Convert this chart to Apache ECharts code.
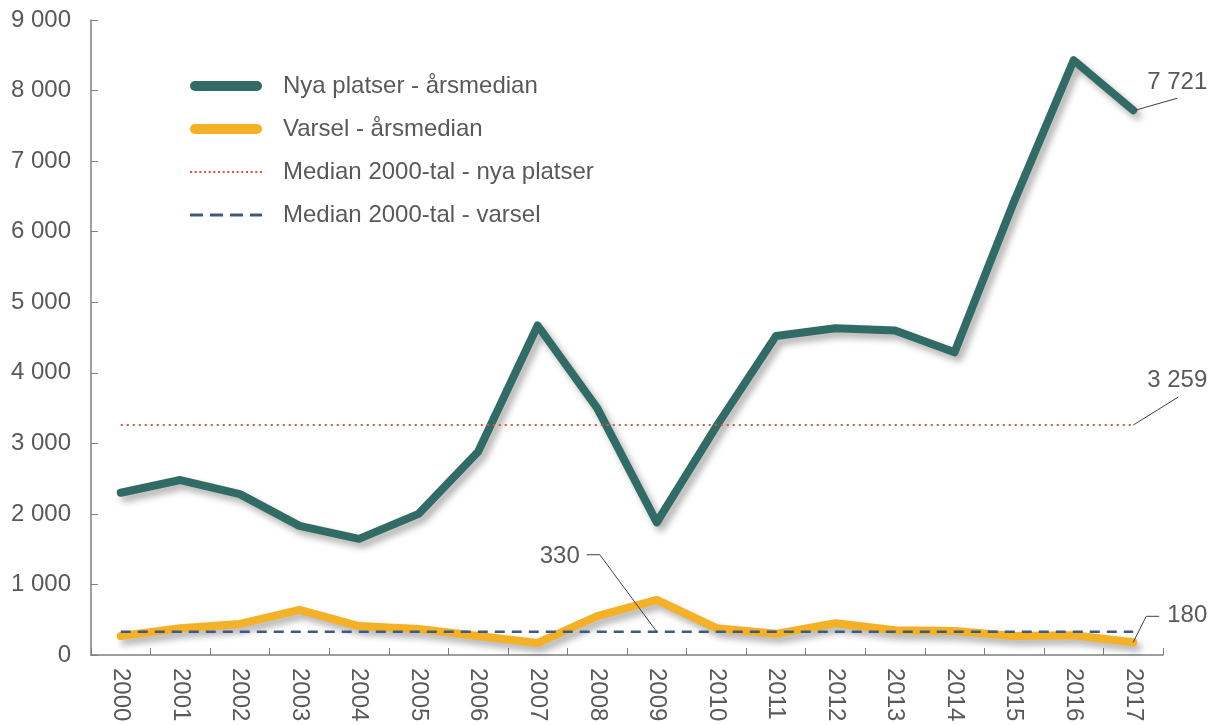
<!DOCTYPE html>
<html>
<head>
<meta charset="utf-8">
<script src="https://cdn.jsdelivr.net/npm/echarts@6/dist/echarts.min.js"></script>
<style>
  html, body { margin: 0; padding: 0; background: #ffffff; }
  #chart { width: 1217px; height: 725px; }
</style>
</head>
<body>
<div id="chart"></div>
<script>
// Years on the category axis
const years = ['2000','2001','2002','2003','2004','2005','2006','2007','2008',
               '2009','2010','2011','2012','2013','2014','2015','2016','2017'];

// Yearly median of new vacancies
const nyaPlatser = [2300, 2480, 2280, 1830, 1645, 2000, 2880, 4670, 3500,
                    1880, 3240, 4520, 4630, 4600, 4290, 6430, 8430, 7721];

// Yearly median of notices (varsel)
const varsel = [270, 380, 440, 640, 410, 370, 270, 170, 550,
                780, 380, 300, 450, 350, 340, 270, 280, 180];

// Medians over the 2000s
const medianNyaPlatser = 3259;
const medianVarsel = 330;

// Y-axis ticks
const yMin = 0, yMax = 9000, yStep = 1000;

const seriesNames = [
  'Nya platser - årsmedian',
  'Varsel - årsmedian',
  'Median 2000-tal - nya platser',
  'Median 2000-tal - varsel'
];

const colTeal = '#316b66';
const colOrange = '#f5b125';
const colRed = '#e2553b';
const colBlue = '#3e5b7e';
const textCol = '#595959';
const FONT = 'Liberation Sans, Arial, sans-serif';
const FS = 24;

const fmt = v => String(v).replace(/\B(?=(\d{3})+(?!\d))/g, ' ');

// Legend icons: rounded bar for thick lines, dots and dashes for the medians
const capsule = 'path://M5,0 H67 A5,5 0 0 1 67,10 H5 A5,5 0 0 1 5,0 Z';
function rowIcon(starts, len, h) {
  return 'path://' + starts.map(s => 'M' + s + ',0 h' + len + ' v' + h + ' h-' + len + ' Z').join(' ');
}
const dotStarts = [];
for (let s = 0; s <= 70; s += 4.6) dotStarts.push(+s.toFixed(1));
const dottedIcon = rowIcon(dotStarts, 2, 2);
const dashedIcon = 'path://M0,0 h13 v3 h-13 Z M20,0 h13 v3 h-13 Z M40,0 h13 v3 h-13 Z M60,0 h12 v3 h-12 Z';

const shadow = { shadowColor: 'rgba(0,0,0,0.32)', shadowBlur: 7, shadowOffsetX: 4, shadowOffsetY: 5 };

const chart = echarts.init(document.getElementById('chart'), null, { renderer: 'canvas' });

const option = {
  backgroundColor: '#ffffff',
  animation: false,
  textStyle: { fontFamily: FONT },
  grid: { left: 91, right: 54, top: 20, bottom: 70, containLabel: false, outerBoundsMode: 'none' },
  legend: {
    orient: 'vertical',
    left: 185,
    top: 69,
    itemWidth: 72,
    itemHeight: 10,
    itemGap: 19,
    selectedMode: false,
    symbolKeepAspect: true,
    textStyle: { fontSize: FS, color: textCol, fontFamily: FONT, lineHeight: 24, padding: [0, 0, 0, 16] },
    data: [
      { name: seriesNames[0], icon: capsule, itemStyle: { color: colTeal } },
      { name: seriesNames[1], icon: capsule, itemStyle: { color: colOrange } },
      { name: seriesNames[2], icon: dottedIcon, itemStyle: { color: colRed } },
      { name: seriesNames[3], icon: dashedIcon, itemStyle: { color: colBlue } }
    ]
  },
  xAxis: {
    type: 'category',
    data: years,
    boundaryGap: true,
    axisLine: { lineStyle: { color: '#7f7f7f', width: 1.5 } },
    axisTick: { show: true, inside: true, length: 7, lineStyle: { color: '#7f7f7f' } },
    axisLabel: { rotate: -90, margin: 13, fontSize: FS, color: textCol, fontFamily: FONT },
    splitLine: { show: false }
  },
  yAxis: {
    type: 'value',
    min: yMin,
    max: yMax,
    interval: yStep,
    axisLine: { show: true, lineStyle: { color: '#7f7f7f', width: 1.5 } },
    axisTick: { show: true, inside: true, length: 7, lineStyle: { color: '#7f7f7f' } },
    axisLabel: { margin: 20, fontSize: FS, color: textCol, fontFamily: FONT, formatter: fmt },
    splitLine: { show: false }
  },
  series: [
    {
      name: seriesNames[0],
      type: 'line',
      data: nyaPlatser,
      symbol: 'none',
      lineStyle: Object.assign({ color: colTeal, width: 8, cap: 'round', join: 'round' }, shadow),
      itemStyle: { color: colTeal },
      z: 3
    },
    {
      name: seriesNames[1],
      type: 'line',
      data: varsel,
      symbol: 'none',
      lineStyle: Object.assign({ color: colOrange, width: 8, cap: 'round', join: 'round' }, shadow),
      itemStyle: { color: colOrange },
      z: 3
    },
    {
      name: seriesNames[2],
      type: 'line',
      data: years.map(() => medianNyaPlatser),
      symbol: 'none',
      lineStyle: { color: colRed, width: 2, type: [2, 4] },
      itemStyle: { color: colRed },
      z: 4
    },
    {
      name: seriesNames[3],
      type: 'line',
      data: years.map(() => medianVarsel),
      symbol: 'none',
      lineStyle: { color: colBlue, width: 2.5, type: [10, 7] },
      itemStyle: { color: colBlue },
      z: 4
    }
  ]
};

chart.setOption(option);

// Value callouts with leader lines, anchored to the data points
const last = years.length - 1;
const px = (i, v) => chart.convertToPixel({ gridIndex: 0 }, [i, v]);
const leader = pts => ({
  type: 'polyline', z: 10,
  shape: { points: pts },
  style: { stroke: '#404040', lineWidth: 1, fill: null }
});
const label = (x, y, text, align) => ({
  type: 'text', z: 10, x: x, y: y,
  style: { text: text, fill: textCol, font: FS + 'px ' + FONT, align: align, verticalAlign: 'middle' }
});

const a = px(last, nyaPlatser[last]);
const b = px(last, medianNyaPlatser);
const c = px(9, medianVarsel);
const d = px(last, varsel[last]);

chart.setOption({
  graphic: [
    leader([[a[0] + 2, a[1]], [a[0] + 44, a[1] - 12]]),
    label(a[0] + 44, a[1] - 28, fmt(nyaPlatser[last]), 'center'),

    leader([[b[0], b[1]], [b[0] + 45, b[1] - 28]]),
    label(b[0] + 44, b[1] - 45, fmt(medianNyaPlatser), 'center'),

    leader([[c[0], c[1]], [c[0] - 57, c[1] - 77], [c[0] - 70, c[1] - 77]]),
    label(c[0] - 77, c[1] - 75, fmt(medianVarsel), 'right'),

    leader([[d[0], d[1]], [d[0] + 13, d[1] - 26], [d[0] + 26, d[1] - 26]]),
    label(d[0] + 34, d[1] - 27, fmt(varsel[last]), 'left')
  ]
});
</script>
</body>
</html>
